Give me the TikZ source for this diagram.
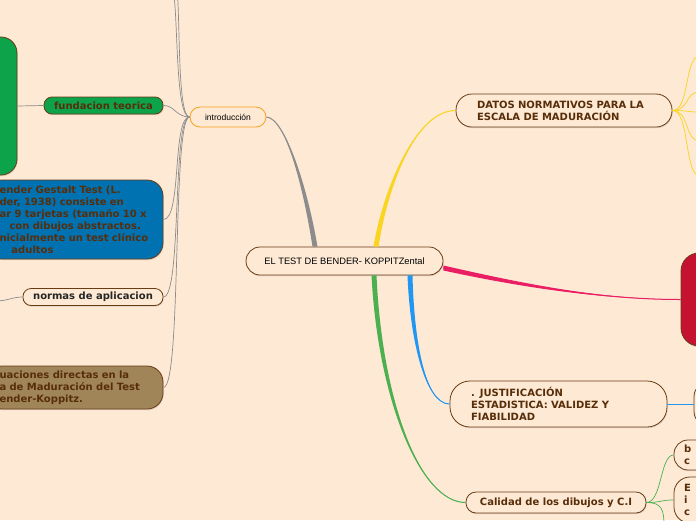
\documentclass[tikz,border=0pt]{standalone}
\usepackage{fontspec}
\setmainfont{DejaVu Sans}
\newfontfamily\rootfont{Liberation Sans}
\definecolor{mmpaper}{RGB}{253,233,212}
\definecolor{mmbrown}{RGB}{105,60,20}
\definecolor{mmtext}{RGB}{88,46,10}
\definecolor{mmgreen}{RGB}{12,163,74}
\definecolor{mmblue}{RGB}{0,114,178}
\definecolor{mmolive}{RGB}{160,133,88}
\definecolor{mmred}{RGB}{196,18,48}
\definecolor{mmorange}{RGB}{247,162,27}
\definecolor{mmyellow}{RGB}{250,212,30}
\definecolor{mmpink}{RGB}{233,30,99}
\definecolor{mmsky}{RGB}{33,150,243}
\definecolor{mmleaf}{RGB}{76,175,80}
\definecolor{mmgray}{RGB}{140,140,140}
\usetikzlibrary{calc,shadows}

\begin{document}
\begin{tikzpicture}[x=1pt,y=-1pt,
  topic/.style={draw=mmbrown,line width=0.8pt,fill=mmpaper,rounded corners=#1,
    drop shadow={opacity=0.25,shadow xshift=0.6pt,shadow yshift=-1.2pt}},
  topic/.default=9pt,
  boldlabel/.style={font=\bfseries\fontsize{10}{12}\selectfont,text=mmtext},
  twig/.style={draw=#1,line width=0.7pt},
  twig/.default=mmgray]
  \useasboundingbox (0,0) rectangle (696,520);
  \fill[mmpaper] (0,0) rectangle (696,520);

  % Central topic
  \node[topic=14pt,minimum width=197pt,minimum height=28pt,
    font=\rootfont\fontsize{9.3}{11}\selectfont,text=black] (bender) at (344.5,261)
    {EL TEST DE BENDER- KOPPITZental};
  % introduccion
  \node[draw=mmorange,line width=0.8pt,fill=mmpaper,rounded corners=10pt,
    minimum width=76pt,minimum height=20pt,
    font=\rootfont\fontsize{8.5}{10}\selectfont] (intro) at (228,117) {introducción};
  % left side children
  \node[topic=16pt,fill=mmgreen,minimum width=60pt,minimum height=138pt] (fundkid) at (-13,106) {};
  \node[topic=8pt,fill=mmgreen,minimum width=119pt,minimum height=17pt,boldlabel] (fund) at (103.5,105.5)
    {fundacion teorica};
  \node[topic=16pt,fill=mmblue,text width=150pt,inner xsep=13.5pt,minimum height=79pt,
    align=left,boldlabel] (gestalt) at (74.5,219.5)
    {ender Gestalt Test (L.\\der, 1938) consiste en\\ar 9 tarjetas (tamaño 10 x\\
     \hspace*{10pt}con dibujos abstractos.\\nicialmente un test clínico\\\hspace*{12pt}adultos};
  \node[topic=8pt,minimum width=140pt,minimum height=17pt,boldlabel,text=black!85] (normas) at (93,297)
    {normas de aplicacion};
  \coordinate (normaskid) at (-5,301);
  \node[topic=16pt,fill=mmolive,text width=150pt,inner xsep=13.5pt,minimum height=43pt,
    align=left,boldlabel] (puntaje) at (74.5,387.5)
    {uaciones directas en la\\a de Maduración del Test\\ender-Koppitz.};
  \coordinate (introtop1) at (174,-5);
  \coordinate (introtop2) at (177.5,-5);
  % right side topics
  \node[topic=16pt,text width=174pt,inner xsep=21pt,minimum height=33pt,align=left,boldlabel] (datos) at (564,110.5)
    {DATOS NORMATIVOS PARA LA\\ESCALA DE MADURACIÓN};
  \foreach \i/\ypos in {1/56,2/92,3/112,4/141,5/176}
    \coordinate (datos\i) at (700,\ypos);
  \node[topic=18pt,fill=mmred,minimum width=49pt,minimum height=93pt] (rojo) at (705.5,299.5) {};
  \node[topic=20pt,text width=175pt,inner xsep=21pt,minimum height=46pt,align=left,boldlabel] (justif) at (558.5,404)
    {. JUSTIFICACIÓN\\ESTADISTICA: VALIDEZ Y\\FIABILIDAD};
  \node[topic=16pt,minimum width=46pt,minimum height=46pt] (justifkid) at (717,404) {};
  \node[topic=10pt,minimum width=180pt,minimum height=21pt,boldlabel] (calidad) at (556,502.5)
    {Calidad de los dibujos y C.I};
  \node[topic=14pt,text width=26pt,inner xsep=10pt,minimum height=30pt,align=left,boldlabel] (calidad1) at (697,455)
    {b\\c};
  \node[topic=16pt,text width=26pt,inner xsep=10pt,minimum height=46pt,align=left,boldlabel] (calidad2) at (697,500)
    {E\\i\\c};
  \coordinate (calidad3) at (664,526);

  % main branches (tapered)
  \fill[mmgray] ($(bender.north)+(-32,0)$) .. controls (303,185) and (285,118) .. (intro.east)
    .. controls (285,118) and (307,185) .. ($(bender.north)+(-27,0)$) -- cycle;
  \fill[mmyellow] ($(bender.north)+(29,0)$) .. controls (383,190) and (415,110.5) .. (datos.west)
    .. controls (415,110.5) and (387,190) .. ($(bender.north)+(34,0)$) -- cycle;
  \fill[mmpink] ($(bender.east)+(0,4.5)$) .. controls (520,283) and (600,299.5) .. (rojo.west)
    .. controls (600,299.5) and (520,287) .. ($(bender.east)+(0,9.5)$) -- cycle;
  \fill[mmsky] ($(bender.south)+(63,0)$) .. controls (410,340) and (425,404) .. (justif.west)
    .. controls (425,404) and (414,340) .. ($(bender.south)+(68,0)$) -- cycle;
  \fill[mmleaf] ($(bender.south)+(27,0)$) .. controls (378,400) and (420,502.5) .. (calidad.west)
    .. controls (420,502.5) and (382,400) .. ($(bender.south)+(32,0)$) -- cycle;
  \draw[mmgray,line width=1pt] ($(bender.north)+(-29.5,0)$) .. controls (305,185) and (285,118) .. (intro.east);
  \draw[mmyellow,line width=1pt] ($(bender.north)+(31.5,0)$) .. controls (385,190) and (415,110.5) .. (datos.west);
  \draw[mmpink,line width=1pt] ($(bender.east)+(0,7)$) .. controls (520,285) and (600,299.5) .. (rojo.west);
  \draw[mmsky,line width=1pt] ($(bender.south)+(65.5,0)$) .. controls (412,340) and (425,404) .. (justif.west);
  \draw[mmleaf,line width=1pt] ($(bender.south)+(29.5,0)$) .. controls (380,400) and (420,502.5) .. (calidad.west);

  % thin links
  \draw[twig] (intro.west) .. controls (176,117) and (178,30) .. (introtop1);
  \draw[twig] (intro.west) .. controls (178,117) and (180,30) .. (introtop2);
  \draw[twig] (intro.west) .. controls (176,117) and (174,105) .. (fund.east);
  \draw[twig] (intro.west) .. controls (172,117) and (182,219.5) .. (gestalt.east);
  \draw[twig] (intro.west) .. controls (172,117) and (182,297) .. (normas.east);
  \draw[twig] (intro.west) .. controls (172,117) and (182,387.5) .. (puntaje.east);
  \draw[twig] (fundkid.east) -- (fund.west);
  \draw[twig] (normas.west) .. controls (12,297) and (8,301) .. (normaskid);
  \foreach \i/\ypos in {1/56,2/92,3/112,4/141,5/176}
    \draw[twig=mmyellow] (datos.east) .. controls (690,110.5) and (684,\ypos) .. (datos\i);
  \draw[twig=mmsky] (justif.east) -- (justifkid.west);
  \draw[twig=mmleaf] (calidad.east) .. controls (662,502.5) and (660,455) .. (calidad1.west);
  \draw[twig=mmleaf] (calidad.east) .. controls (662,502.5) and (660,500) .. (calidad2.west);
  \draw[twig=mmleaf] (calidad.east) .. controls (662,502.5) and (664,510) .. (calidad3);
\end{tikzpicture}
\end{document}
